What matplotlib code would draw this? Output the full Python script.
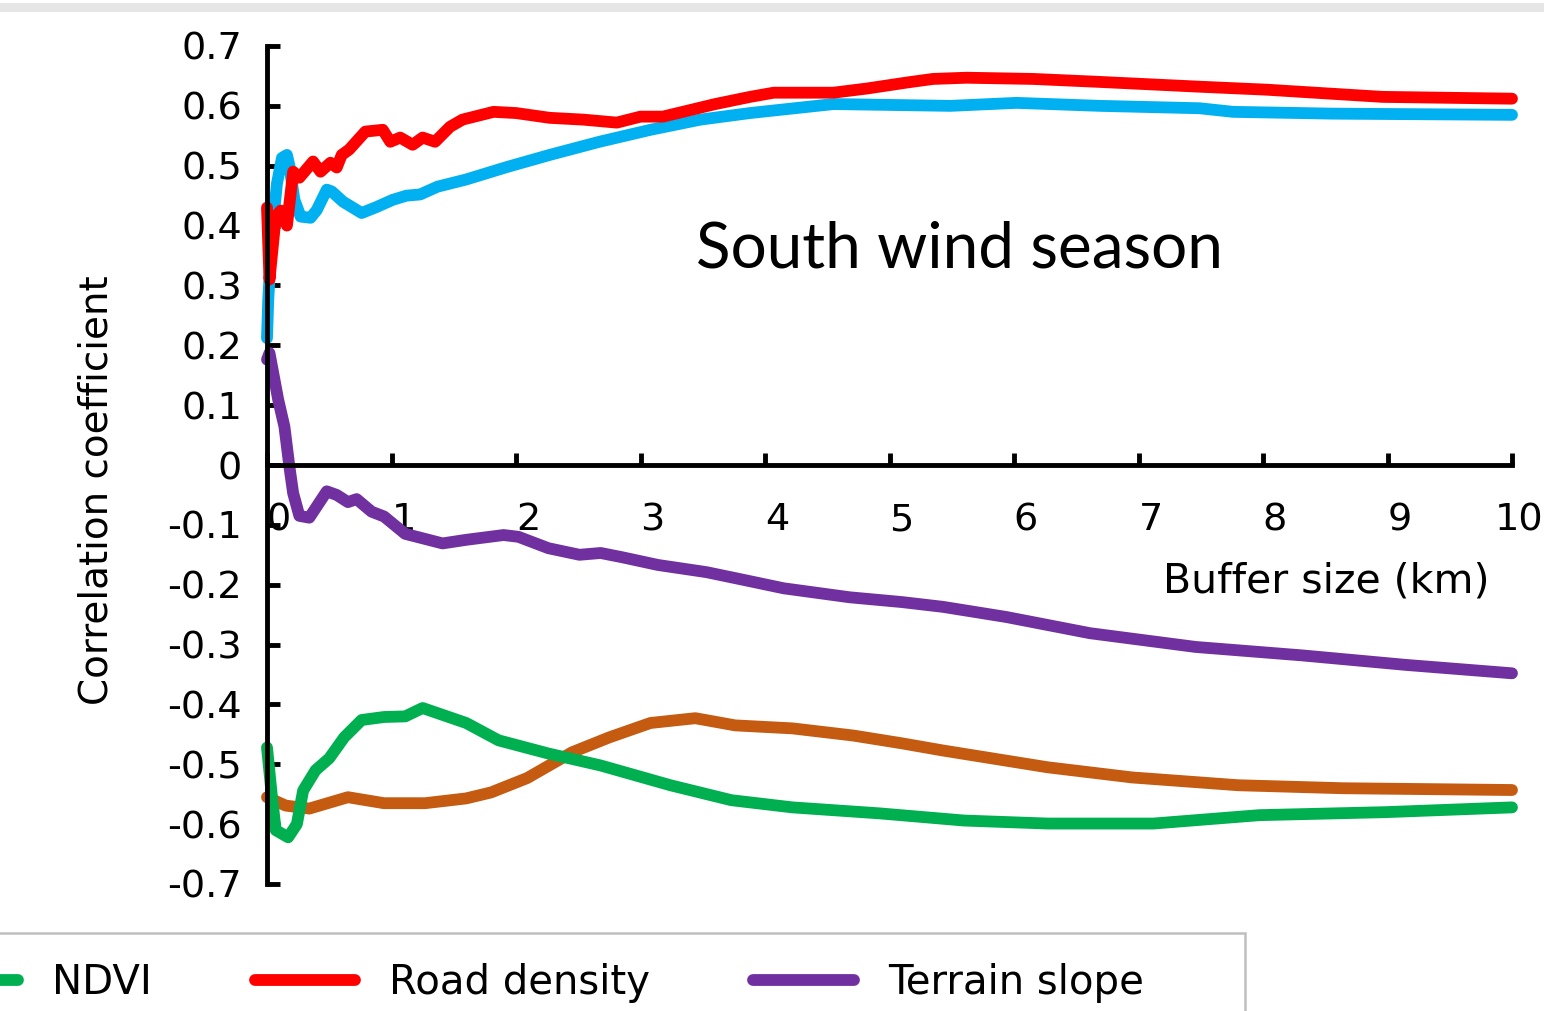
import matplotlib
matplotlib.use('Agg')
import matplotlib.pyplot as plt
import matplotlib.transforms as mtransforms
from matplotlib.patches import Rectangle
from matplotlib.lines import Line2D

plt.rcParams['font.family'] = ['DejaVu Sans']
plt.rcParams['axes.unicode_minus'] = False

# 数据
ndvi_x = [0, 0.04, 0.07, 0.17, 0.24, 0.29, 0.39, 0.5, 0.62, 0.76, 0.94, 1.11, 1.25, 1.6, 1.86,
          2.26, 2.68, 3.24, 3.73, 4.22, 4.92, 5.6, 6.27, 7.12, 7.97, 8.98, 10.0]
ndvi_y = [-0.472, -0.555, -0.61, -0.622, -0.6, -0.544, -0.51, -0.49, -0.455, -0.426, -0.421, -0.42,
          -0.406, -0.431, -0.46, -0.482, -0.502, -0.535, -0.56, -0.572, -0.582, -0.594, -0.599,
          -0.599, -0.585, -0.58, -0.572]

road_x = [0, 0.02, 0.07, 0.11, 0.16, 0.21, 0.26, 0.37, 0.43, 0.51, 0.56, 0.6, 0.66, 0.79, 0.93,
          0.99, 1.07, 1.17, 1.25, 1.35, 1.47, 1.57, 1.82, 2.0, 2.27, 2.54, 2.81, 3.0, 3.18, 3.34,
          3.6, 3.88, 4.07, 4.55, 4.82, 5.14, 5.35, 5.62, 6.15, 6.69, 7.49, 8.03, 8.96, 10.0]
road_y = [0.43, 0.31, 0.415, 0.425, 0.40, 0.49, 0.48, 0.507, 0.49, 0.505, 0.497, 0.518, 0.527,
          0.557, 0.56, 0.54, 0.547, 0.535, 0.547, 0.54, 0.565, 0.577, 0.59, 0.588, 0.58, 0.577,
          0.572, 0.582, 0.582, 0.59, 0.603, 0.615, 0.622, 0.622, 0.629, 0.639, 0.645, 0.647,
          0.645, 0.640, 0.632, 0.627, 0.615, 0.612]

slope_x = [0, 0.02, 0.09, 0.14, 0.18, 0.21, 0.26, 0.34, 0.48, 0.56, 0.65, 0.72, 0.84, 0.94, 1.11,
           1.41, 1.6, 1.9, 2.02, 2.26, 2.51, 2.68, 2.85, 3.14, 3.53, 3.83, 4.15, 4.68, 5.1, 5.43,
           5.94, 6.61, 7.46, 8.31, 9.15, 10.0]
slope_y = [0.176, 0.187, 0.109, 0.064, -0.003, -0.047, -0.085, -0.088, -0.044, -0.05, -0.062,
           -0.057, -0.078, -0.086, -0.115, -0.131, -0.125, -0.117, -0.12, -0.139, -0.15, -0.147,
           -0.154, -0.167, -0.179, -0.192, -0.206, -0.221, -0.229, -0.237, -0.254, -0.281,
           -0.304, -0.318, -0.334, -0.348]

# 图例中被裁掉的两条线 (蓝色, 橙色)
blue_x = [0, 0.01, 0.04, 0.08, 0.12, 0.16, 0.18, 0.22, 0.27, 0.35, 0.40, 0.48, 0.52, 0.61, 0.76,
          0.88, 1.01, 1.12, 1.23, 1.37, 1.6, 1.93, 2.27, 2.67, 3.08, 3.48, 3.88, 4.55, 5.49, 6.02,
          6.69, 7.49, 7.76, 8.56, 10.0]
blue_y = [0.212, 0.276, 0.388, 0.47, 0.513, 0.518, 0.50, 0.443, 0.415, 0.413, 0.426, 0.46, 0.457,
          0.44, 0.421, 0.431, 0.443, 0.45, 0.452, 0.465, 0.477, 0.498, 0.518, 0.54, 0.56, 0.577,
          0.588, 0.603, 0.600, 0.605, 0.600, 0.596, 0.590, 0.587, 0.585]

orange_x = [0, 0.15, 0.34, 0.65, 0.94, 1.27, 1.6, 1.8, 2.09, 2.45, 2.75, 3.08, 3.44, 3.76, 4.22,
            4.71, 5.1, 5.43, 6.27, 6.95, 7.8, 8.64, 10.0]
orange_y = [-0.555, -0.569, -0.574, -0.555, -0.565, -0.565, -0.557, -0.547, -0.523, -0.48, -0.455,
            -0.431, -0.423, -0.435, -0.44, -0.452, -0.465, -0.477, -0.505, -0.522, -0.535, -0.54,
            -0.543]

x_ticks = list(range(0, 11))
x_labels = [str(t) for t in x_ticks]
y_ticks = [0.7, 0.6, 0.5, 0.4, 0.3, 0.2, 0.1, 0, -0.1, -0.2, -0.3, -0.4, -0.5, -0.6, -0.7]
y_labels = ['0.7', '0.6', '0.5', '0.4', '0.3', '0.2', '0.1', '0', '-0.1', '-0.2', '-0.3',
            '-0.4', '-0.5', '-0.6', '-0.7']

W, H = 1544, 1011
fig = plt.figure(figsize=(W / 100, H / 100), dpi=100)
ax = fig.add_axes([267 / W, 1 - 884 / H, (1512 - 267) / W, (884 - 46) / H])

lw = 8.5
kw = dict(linewidth=lw, solid_capstyle='round', solid_joinstyle='round', clip_on=False)
ax.plot(blue_x, blue_y, color='#00B0F0', **kw)
ax.plot(orange_x, orange_y, color='#C55A11', **kw)
ax.plot(slope_x, slope_y, color='#7030A0', **kw)
ax.plot(road_x, road_y, color='#FF0000', **kw)
ax.plot(ndvi_x, ndvi_y, color='#00B050', **kw)

ax.set_xlim(0, 10)
ax.set_ylim(-0.7, 0.7)

# 坐标轴样式
for s in ['top', 'right']:
    ax.spines[s].set_visible(False)
ax.spines['bottom'].set_position(('data', 0))
for s in ['left', 'bottom']:
    ax.spines[s].set_linewidth(3.5)
    ax.spines[s].set_capstyle('projecting')

ax.set_xticks(x_ticks)
ax.set_xticklabels(x_labels)
ax.set_yticks(y_ticks)
ax.set_yticklabels(y_labels)
ax.tick_params(axis='x', direction='in', length=9, width=3.5, pad=27, labelsize=27.5)
ax.tick_params(axis='y', direction='in', length=9, width=3.5, pad=18, labelsize=27.5)

# x 轴标签向右偏移
for i, lab in enumerate(ax.get_xticklabels()):
    dx = 12 if i < len(x_ticks) - 1 else 7
    offset = mtransforms.ScaledTranslation(dx / 100, 0, fig.dpi_scale_trans)
    lab.set_transform(lab.get_transform() + offset)

fig.text(97 / W, 1 - 490 / H, 'Correlation coefficient', rotation=90,
         ha='center', va='center', fontsize=28)
ax.text((1326 - 267) / 1245, (884 - 582) / 838, 'Buffer size (km)', transform=ax.transAxes,
        ha='center', va='center', fontsize=29.5)
ax.text((959 - 267) / 1245, (884 - 250) / 838, 'South wind season', transform=ax.transAxes,
        ha='center', va='center', fontsize=46, family=['Lato', 'DejaVu Sans'])

# 图例
handles = [Line2D([], [], color='#00B050', linewidth=lw, solid_capstyle='round'),
           Line2D([], [], color='#FF0000', linewidth=lw, solid_capstyle='round'),
           Line2D([], [], color='#7030A0', linewidth=lw, solid_capstyle='round')]
labels = ['NDVI', 'Road density', 'Terrain slope']
fig.legend(handles, labels, loc='center left', bbox_to_anchor=(-83 / W, 1 - 983 / H),
           ncol=3, frameon=False, fontsize=29, handlelength=2.5, handletextpad=0.85,
           columnspacing=2.55, borderpad=0, borderaxespad=0)
fig.patches.append(Rectangle((-0.01, -0.01), 1245 / W + 0.01, 1 - 933 / H + 0.01,
                             transform=fig.transFigure, facecolor='none',
                             edgecolor='#bfbfbf', linewidth=1.8))
fig.patches.append(Rectangle((0, 1 - 12 / H), 1, 9 / H, transform=fig.transFigure,
                             facecolor='#e6e6e6', edgecolor='none'))

plt.savefig('out.png', dpi=100)
